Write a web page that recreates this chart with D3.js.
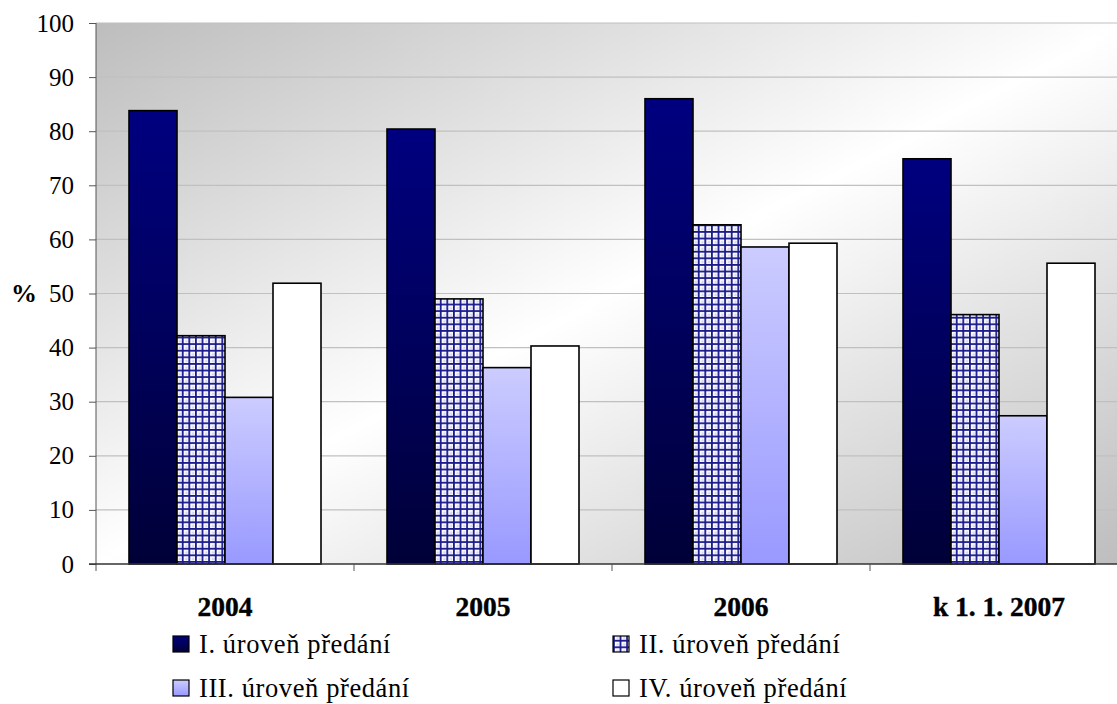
<!DOCTYPE html>
<html><head><meta charset="utf-8">
<script src="https://cdn.jsdelivr.net/npm/d3@7"></script>
<style>body{margin:0;background:#fff}svg{display:block}
svg text{font-family:'Liberation Serif','Times New Roman',Tinos,'DejaVu Serif',serif !important}</style>
</head><body>
<svg id="c" width="1117" height="704"></svg>
<script>
const categories = ["2004", "2005", "2006", "k 1. 1. 2007"];
const seriesNames = ["I. úroveň předání", "II. úroveň předání", "III. úroveň předání", "IV. úroveň předání"];
const level1 = [83.8, 80.4, 86.0, 74.9];
const level2 = [42.2, 49.0, 62.7, 46.1];
const level3 = [30.8, 36.3, 58.6, 27.4];
const level4 = [51.9, 40.3, 59.3, 55.6];
const yTicks = [0, 10, 20, 30, 40, 50, 60, 70, 80, 90, 100];
const series = [level1, level2, level3, level4];

const svg = d3.select("#c");
const m = {left: 96, top: 23, right: 1128, bottom: 564};
const defs = svg.append("defs");

const bg = defs.append("linearGradient").attr("id", "bg").attr("x1", 0).attr("y1", 0).attr("x2", 1).attr("y2", 1);
bg.append("stop").attr("offset", "0%").attr("stop-color", "#bdbdbd");
bg.append("stop").attr("offset", "50%").attr("stop-color", "#ffffff");
bg.append("stop").attr("offset", "100%").attr("stop-color", "#bdbdbd");

const g1 = defs.append("linearGradient").attr("id", "f1").attr("x1", 0).attr("y1", 0).attr("x2", 0).attr("y2", 1);
g1.append("stop").attr("offset", "0%").attr("stop-color", "#000080");
g1.append("stop").attr("offset", "100%").attr("stop-color", "#000038");

const g3 = defs.append("linearGradient").attr("id", "f3").attr("x1", 0).attr("y1", 0).attr("x2", 0).attr("y2", 1);
g3.append("stop").attr("offset", "0%").attr("stop-color", "#ccccff");
g3.append("stop").attr("offset", "100%").attr("stop-color", "#9999ff");

const pat = defs.append("pattern").attr("id", "f2").attr("patternUnits", "userSpaceOnUse")
  .attr("width", 6.6).attr("height", 6.6);
pat.append("rect").attr("width", 6.6).attr("height", 6.6).attr("fill", "#ffffff");
pat.append("rect").attr("x", 3.4).attr("y", 3.4).attr("width", 2.6).attr("height", 2.6).attr("fill", "#d8d8f4");
pat.append("rect").attr("x", 0).attr("y", 0).attr("width", 1.8).attr("height", 6.6).attr("fill", "#1a1a8c");
pat.append("rect").attr("x", 0).attr("y", 0).attr("width", 6.6).attr("height", 1.8).attr("fill", "#1a1a8c");

const fills = ["url(#f1)", "url(#f2)", "url(#f3)", "#ffffff"];

const x0 = d3.scaleBand().domain(categories).range([m.left, m.right]).padding(0);
const gap = 66;
const x1 = d3.scaleBand().domain(d3.range(4)).range([gap / 2, x0.bandwidth() - gap / 2]).padding(0);
const y = d3.scaleLinear().domain([0, 100]).range([m.bottom, m.top]);

svg.append("rect").attr("x", m.left).attr("y", m.top).attr("width", m.right - m.left)
  .attr("height", m.bottom - m.top).attr("fill", "url(#bg)");

svg.append("g").selectAll("line").data(yTicks.filter(d => d > 0)).join("line")
  .attr("x1", m.left).attr("x2", m.right).attr("y1", d => y(d)).attr("y2", d => y(d))
  .attr("stroke", "#c0c0c0").attr("stroke-width", 1.2);

const groups = svg.append("g").selectAll("g").data(categories).join("g")
  .attr("transform", d => `translate(${x0(d)},0)`);
groups.selectAll("rect").data((c, ci) => series.map((s, si) => ({si, v: s[ci]}))).join("rect")
  .attr("x", d => x1(d.si)).attr("width", x1.bandwidth())
  .attr("y", d => y(d.v)).attr("height", d => y(0) - y(d.v))
  .attr("fill", d => fills[d.si]).attr("stroke", "#000").attr("stroke-width", 1.6);

// y axis
const ya = svg.append("g").attr("transform", `translate(${m.left},0)`)
  .call(d3.axisLeft(y).tickValues(yTicks).tickSize(7).tickPadding(15));
ya.select(".domain").attr("d", `M0,${m.top}V${m.bottom + 7}`).attr("stroke", "#555");
ya.selectAll(".tick line").attr("stroke", "#555");
ya.selectAll("text").attr("font-size", 25).attr("fill", "#000");

// x axis
const xa = svg.append("g").attr("transform", `translate(0,${m.bottom})`)
  .call(d3.axisBottom(x0).tickSize(0).tickPadding(32));
xa.select(".domain").attr("d", `M${m.left - 7},0H${m.right}`).attr("stroke", "#333").attr("stroke-width", 1.3);
xa.selectAll("text").attr("font-size", 27.5).attr("font-weight", "bold").attr("fill", "#000")
  .attr("stroke", "#000").attr("stroke-width", 0.4);
svg.append("g").selectAll("line").data(categories.slice(1)).join("line")
  .attr("x1", d => x0(d)).attr("x2", d => x0(d)).attr("y1", m.bottom).attr("y2", m.bottom + 7)
  .attr("stroke", "#555");

svg.append("text").attr("x", 24).attr("y", 302).attr("text-anchor", "middle")
  .attr("font-size", 26).attr("font-weight", "bold").text("%");

// legend
const legPos = [[173, 653], [613, 653], [173, 697], [613, 697]];
const leg = svg.append("g").selectAll("g").data(seriesNames).join("g")
  .attr("transform", (d, i) => `translate(${legPos[i][0]},${legPos[i][1]})`);
leg.append("rect").attr("x", 0).attr("y", -17).attr("width", 16).attr("height", 16)
  .attr("fill", (d, i) => fills[i]).attr("stroke", "#000").attr("stroke-width", 1.2);
leg.append("text").attr("x", 26).attr("y", 0)
  .attr("font-size", 26.5).attr("letter-spacing", 0.6).text(d => d);
</script>
</body></html>
